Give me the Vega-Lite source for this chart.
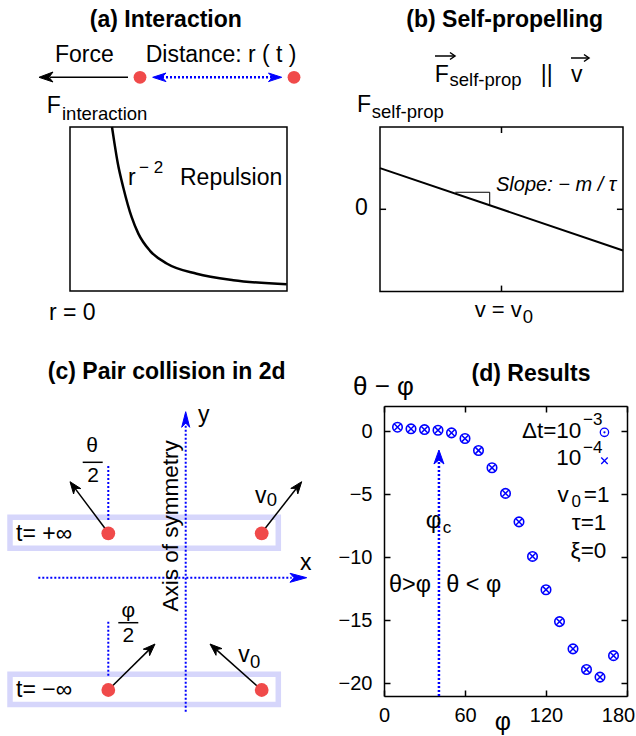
{
"$schema":"https://vega.github.io/schema/vega-lite/v6.json",
"padding":0,
"background":"white",
"config":{"view":{"stroke":null},"font":"Liberation Sans"},
"columns":2,
"spacing":{"row":66,"column":66},
"bounds":"flush",
"align":"each",
"concat":[
{
"width":318,"height":340,
"encoding":{
"x":{"field":"x","type":"quantitative","scale":{"domain":[-0.32258,1.14286],"nice":false,"zero":false},"axis":null},
"y":{"field":"y","type":"quantitative","scale":{"domain":[-0.29878,1.77439],"nice":false,"zero":false},"axis":null}
},
"layer":[
{"data":{"values":[{"x":0,"y":0,"x2":1,"y2":1}]},"mark":{"type":"rect","filled":false,"stroke":"black","strokeWidth":1.5},"encoding":{"x2":{"field":"x2"},"y2":{"field":"y2"}}},
{"data":{"values":[{"x":0.1935,"y":1.0},{"x":0.205,"y":0.9},{"x":0.22,"y":0.78},{"x":0.2458,"y":0.63},{"x":0.2842,"y":0.45},{"x":0.3149,"y":0.35},{"x":0.3687,"y":0.245},{"x":0.4455,"y":0.168},{"x":0.5837,"y":0.105},{"x":0.7527,"y":0.066},{"x":0.9985,"y":0.041}]},"mark":{"type":"line","color":"black","strokeWidth":2.5,"interpolate":"monotone"}},
{"data":{"values":[{"id":"f","k":0,"x":0.2673,"y":1.303},{"id":"f","k":1,"x":-0.0922,"y":1.303}]},"mark":{"type":"line","color":"black","strokeWidth":1.5},"encoding":{"detail":{"field":"id"},"order":{"field":"k"}}},
{"data":{"values":[{"id":"f","k":0,"x":-0.1429,"y":1.303},{"id":"f","k":1,"x":-0.0783,"y":1.3354},{"id":"f","k":2,"x":-0.0968,"y":1.303},{"id":"f","k":3,"x":-0.0783,"y":1.2744},{"id":"f","k":4,"x":-0.1429,"y":1.303}]},"mark":{"type":"line","color":"black","fill":"black","strokeWidth":1},"encoding":{"detail":{"field":"id"},"order":{"field":"k"}}},
{"data":{"values":[{"id":"d","k":0,"x":0.4055,"y":1.303},{"id":"d","k":1,"x":0.9539,"y":1.303}]},"mark":{"type":"line","color":"#0000ff","strokeWidth":2.5,"strokeDash":[2,2]},"encoding":{"detail":{"field":"id"},"order":{"field":"k"}}},
{"data":{"values":[{"id":"l","k":0,"x":0.3811,"y":1.303},{"id":"l","k":1,"x":0.4424,"y":1.3293},{"id":"l","k":2,"x":0.424,"y":1.303},{"id":"l","k":3,"x":0.4424,"y":1.2768},{"id":"l","k":4,"x":0.3811,"y":1.303},{"id":"r","k":0,"x":0.9756,"y":1.303},{"id":"r","k":1,"x":0.9147,"y":1.3293},{"id":"r","k":2,"x":0.9332,"y":1.303},{"id":"r","k":3,"x":0.9147,"y":1.2768},{"id":"r","k":4,"x":0.9756,"y":1.303}]},"mark":{"type":"line","color":"#0000ff","fill":"#0000ff","strokeWidth":1},"encoding":{"detail":{"field":"id"},"order":{"field":"k"}}},
{"data":{"values":[{"x":0.3226,"y":1.303},{"x":1.0323,"y":1.303}]},"mark":{"type":"point","shape":"circle","filled":true,"color":"#f04a4a","size":165,"opacity":1}},
{"data":{"values":[{"x":-0.0691,"y":1.3933,"t":"Force"},{"x":0.3488,"y":1.3933,"t":"Distance: r ( t )"},{"x":-0.1074,"y":1.0854,"t":"F"},{"x":0.2673,"y":0.6463,"t":"r"},{"x":0.5069,"y":0.6463,"t":"Repulsion"},{"x":-0.0968,"y":-0.1768,"t":"r = 0"}]},"mark":{"type":"text","align":"left","baseline":"alphabetic","fontSize":23,"color":"black"},"encoding":{"text":{"field":"t"}}},
{"data":{"values":[{"x":-0.0369,"y":1.0427,"t":"interaction"}]},"mark":{"type":"text","align":"left","baseline":"alphabetic","fontSize":18.5,"color":"black"},"encoding":{"text":{"field":"t"}}},
{"data":{"values":[{"x":0.318,"y":0.7195,"t":"− 2"}]},"mark":{"type":"text","align":"left","baseline":"alphabetic","fontSize":17,"color":"black"},"encoding":{"text":{"field":"t"}}},
{"data":{"values":[{"x":0.4415,"y":1.6098,"t":"(a) Interaction"}]},"mark":{"type":"text","align":"center","baseline":"alphabetic","fontSize":23,"fontWeight":"bold","color":"black"},"encoding":{"text":{"field":"t"}}}
]
},
{
"width":243,"height":340,
"encoding":{
"x":{"field":"x","type":"quantitative","scale":{"domain":[0.03292,2.03292],"nice":false,"zero":false},"axis":null},
"y":{"field":"y","type":"quantitative","scale":{"domain":[-1.58809,2.54313],"nice":false,"zero":false},"axis":null}
},
"layer":[
{"data":{"values":[{"x":0,"y":-1,"x2":2,"y2":1}]},"mark":{"type":"rect","filled":false,"stroke":"black","strokeWidth":1.5},"encoding":{"x2":{"field":"x2"},"y2":{"field":"y2"}}},
{"data":{"values":[{"x":0,"x2":0.05,"y":0,"y2":0},{"x":1.95,"x2":2,"y":0,"y2":0},{"x":1,"x2":1,"y":-1,"y2":-0.927},{"x":1,"x2":1,"y":0.927,"y2":1}]},"mark":{"type":"rule","color":"black","strokeWidth":1.5},"encoding":{"x2":{"field":"x2"},"y2":{"field":"y2"}}},
{"data":{"values":[{"x":0,"y":0.5},{"x":2,"y":-0.5}]},"mark":{"type":"line","color":"black","strokeWidth":2}},
{"data":{"values":[{"id":"s","k":0,"x":0.62,"y":0.207},{"id":"s","k":1,"x":0.903,"y":0.207},{"id":"s","k":2,"x":0.903,"y":0.049}]},"mark":{"type":"line","color":"black","strokeWidth":1},"encoding":{"detail":{"field":"id"},"order":{"field":"k"}}},
{"data":{"values":[{"id":"fa","k":0,"x":0.4527,"y":1.8627},{"id":"fa","k":1,"x":0.6173,"y":1.8627},{"id":"fb","k":0,"x":0.5761,"y":1.9052},{"id":"fb","k":1,"x":0.6173,"y":1.8627},{"id":"fb","k":2,"x":0.5761,"y":1.8202},{"id":"va","k":0,"x":1.572,"y":1.8384},{"id":"va","k":1,"x":1.7202,"y":1.8384},{"id":"vb","k":0,"x":1.679,"y":1.8809},{"id":"vb","k":1,"x":1.7202,"y":1.8384},{"id":"vb","k":2,"x":1.679,"y":1.7959}]},"mark":{"type":"line","color":"black","strokeWidth":1.5},"encoding":{"detail":{"field":"id"},"order":{"field":"k"}}},
{"data":{"values":[{"x":0.4502,"y":1.5468,"t":"F"},{"x":1.3226,"y":1.5468,"t":"||"},{"x":1.572,"y":1.5468,"t":"v"},{"x":-0.1893,"y":1.1823,"t":"F"}]},"mark":{"type":"text","align":"left","baseline":"alphabetic","fontSize":23,"color":"black"},"encoding":{"text":{"field":"t"}}},
{"data":{"values":[{"x":0.7794,"y":-1.305,"t":"v = v"}]},"mark":{"type":"text","align":"left","baseline":"alphabetic","fontSize":22,"color":"black"},"encoding":{"text":{"field":"t"}}},
{"data":{"values":[{"x":0.572,"y":1.4982,"t":"self-prop"},{"x":-0.068,"y":1.1057,"t":"self-prop"},{"x":1.175,"y":-1.3852,"t":"0"}]},"mark":{"type":"text","align":"left","baseline":"alphabetic","fontSize":18.5,"color":"black"},"encoding":{"text":{"field":"t"}}},
{"data":{"values":[{"x":-0.1539,"y":-0.0693,"t":"0"}]},"mark":{"type":"text","align":"center","baseline":"alphabetic","fontSize":23,"color":"black"},"encoding":{"text":{"field":"t"}}},
{"data":{"values":[{"x":0.9547,"y":0.226,"t":"Slope: − m / τ"}]},"mark":{"type":"text","align":"left","baseline":"alphabetic","fontSize":20,"fontStyle":"italic","color":"black"},"encoding":{"text":{"field":"t"}}},
{"data":{"values":[{"x":1.0263,"y":2.215,"t":"(b) Self-propelling"}]},"mark":{"type":"text","align":"center","baseline":"alphabetic","fontSize":23,"fontWeight":"bold","color":"black"},"encoding":{"text":{"field":"t"}}}
]
},
{
"width":318,"height":290,
"encoding":{
"x":{"field":"x","type":"quantitative","scale":{"domain":[-18.57,13.23],"nice":false,"zero":false},"axis":null},
"y":{"field":"y","type":"quantitative","scale":{"domain":[-11.83,17.17],"nice":false,"zero":false},"axis":null}
},
"layer":[
{"data":{"values":[{"x":-17.57,"x2":9.26,"y":2.94,"y2":6.05},{"x":-17.57,"x2":9.26,"y":-12.68,"y2":-9.65}]},"mark":{"type":"rect","filled":false,"stroke":"#d6d6fb","strokeWidth":5.5},"encoding":{"x2":{"field":"x2"},"y2":{"field":"y2"}}},
{"data":{"values":[{"id":"ya","k":0,"x":0,"y":-13.4},{"id":"ya","k":1,"x":0,"y":15.6},{"id":"xa","k":0,"x":-14.74,"y":0},{"id":"xa","k":1,"x":10.6,"y":0},{"id":"t","k":0,"x":-7.74,"y":11.17},{"id":"t","k":1,"x":-7.74,"y":5.77},{"id":"b","k":0,"x":-7.74,"y":-4.4},{"id":"b","k":1,"x":-7.74,"y":-9.9}]},"mark":{"type":"line","color":"#0000ff","strokeWidth":2,"strokeDash":[2,2]},"encoding":{"detail":{"field":"id"},"order":{"field":"k"}}},
{"data":{"values":[{"id":"y","k":0,"x":0,"y":16.6},{"id":"y","k":1,"x":-0.4,"y":15.04},{"id":"y","k":2,"x":0,"y":15.47},{"id":"y","k":3,"x":0.4,"y":15.04},{"id":"y","k":4,"x":0,"y":16.6},{"id":"x","k":0,"x":12.1,"y":0},{"id":"x","k":1,"x":10.43,"y":0.44},{"id":"x","k":2,"x":10.83,"y":0},{"id":"x","k":3,"x":10.43,"y":-0.46},{"id":"x","k":4,"x":12.1,"y":0}]},"mark":{"type":"line","color":"#0000ff","fill":"#0000ff","strokeWidth":1},"encoding":{"detail":{"field":"id"},"order":{"field":"k"}}},
{"data":{"values":[{"id":"a1","k":0,"x":-7.74,"y":4.5},{"id":"a1","k":1,"x":-11.07,"y":8.93},{"id":"a2","k":0,"x":7.6,"y":4.5},{"id":"a2","k":1,"x":11.08,"y":8.94},{"id":"a3","k":0,"x":-7.74,"y":-11.23},{"id":"a3","k":1,"x":-3.67,"y":-7.22},{"id":"a4","k":0,"x":7.6,"y":-11.23},{"id":"a4","k":1,"x":3.06,"y":-7.19}]},"mark":{"type":"line","color":"black","strokeWidth":1.5},"encoding":{"detail":{"field":"id"},"order":{"field":"k"}}},
{"data":{"values":[
{"id":"h1","k":0,"x":-11.57,"y":9.6},{"id":"h1","k":1,"x":-10.49,"y":8.91},{"id":"h1","k":2,"x":-11.07,"y":8.93},{"id":"h1","k":3,"x":-11.21,"y":8.37},{"id":"h1","k":4,"x":-11.57,"y":9.6},
{"id":"h2","k":0,"x":11.6,"y":9.6},{"id":"h2","k":1,"x":11.21,"y":8.38},{"id":"h2","k":2,"x":11.08,"y":8.94},{"id":"h2","k":3,"x":10.51,"y":8.93},{"id":"h2","k":4,"x":11.6,"y":9.6},
{"id":"h3","k":0,"x":-3.07,"y":-6.63},{"id":"h3","k":1,"x":-3.61,"y":-7.79},{"id":"h3","k":2,"x":-3.67,"y":-7.22},{"id":"h3","k":3,"x":-4.24,"y":-7.15},{"id":"h3","k":4,"x":-3.07,"y":-6.63},
{"id":"h4","k":0,"x":2.43,"y":-6.63},{"id":"h4","k":1,"x":3.63,"y":-7.09},{"id":"h4","k":2,"x":3.06,"y":-7.19},{"id":"h4","k":3,"x":3.03,"y":-7.76},{"id":"h4","k":4,"x":2.43,"y":-6.63}]},"mark":{"type":"line","color":"black","fill":"black","strokeWidth":1},"encoding":{"detail":{"field":"id"},"order":{"field":"k"}}},
{"data":{"values":[{"x":-7.74,"y":4.44},{"x":7.6,"y":4.44},{"x":-7.74,"y":-11.23},{"x":7.6,"y":-11.23}]},"mark":{"type":"point","shape":"circle","filled":true,"color":"#f04a4a","size":190,"opacity":1}},
{"data":{"values":[{"x":-10.3,"x2":-8.3,"y":11.54,"y2":11.54},{"x":-6.74,"x2":-4.74,"y":-4.5,"y2":-4.5}]},"mark":{"type":"rule","color":"black","strokeWidth":1.5},"encoding":{"x2":{"field":"x2"},"y2":{"field":"y2"}}},
{"data":{"values":[{"x":-16.97,"y":3.72,"t":"t= +∞"},{"x":-16.97,"y":-11.9,"t":"t= −∞"},{"x":11.43,"y":0.77,"t":"x"},{"x":1.23,"y":15.6,"t":"y"},{"x":6.93,"y":7.44,"t":"v"},{"x":5.26,"y":-8.4,"t":"v"}]},"mark":{"type":"text","align":"left","baseline":"alphabetic","fontSize":23,"color":"black"},"encoding":{"text":{"field":"t"}}},
{"data":{"values":[{"x":8.1,"y":7.2,"t":"0"},{"x":6.43,"y":-9.06,"t":"0"}]},"mark":{"type":"text","align":"left","baseline":"alphabetic","fontSize":18.5,"color":"black"},"encoding":{"text":{"field":"t"}}},
{"data":{"values":[{"x":-9.35,"y":12.6,"t":"θ"},{"x":-9.27,"y":9.6,"t":"2"},{"x":-5.74,"y":-3.93,"t":"φ"},{"x":-5.74,"y":-6.4,"t":"2"}]},"mark":{"type":"text","align":"center","baseline":"alphabetic","fontSize":21,"color":"black"},"encoding":{"text":{"field":"t"}}},
{"data":{"values":[{"x":-0.74,"y":5.19,"t":"Axis of symmetry"}]},"mark":{"type":"text","align":"center","baseline":"alphabetic","angle":270,"fontSize":22.5,"color":"black"},"encoding":{"text":{"field":"t"}}},
{"data":{"values":[{"x":-1.9,"y":19.84,"t":"(c) Pair collision in 2d"}]},"mark":{"type":"text","align":"center","baseline":"alphabetic","fontSize":23,"fontWeight":"bold","color":"black"},"encoding":{"text":{"field":"t"}}}
]
},
{
"width":243,"height":290,
"resolve":{"axis":{"x":"independent","y":"independent"}},
"encoding":{
"x":{"field":"x","type":"quantitative","scale":{"domain":[0,180],"nice":false,"zero":false},"axis":null},
"y":{"field":"y","type":"quantitative","scale":{"domain":[-21,2],"nice":false,"zero":false},"axis":null}
},
"layer":[
{"data":{"values":[{"phi":10,"d":0.32},{"phi":20,"d":0.19},{"phi":30,"d":0.13},{"phi":40,"d":0.08},{"phi":50,"d":-0.13},{"phi":60,"d":-0.58},{"phi":70,"d":-1.53},{"phi":80,"d":-2.9},{"phi":90,"d":-4.93},{"phi":100,"d":-7.19},{"phi":110,"d":-9.93},{"phi":120,"d":-12.57},{"phi":130,"d":-15.1},{"phi":140,"d":-17.26},{"phi":150,"d":-18.9},{"phi":160,"d":-19.5},{"phi":170,"d":-17.8}]},
 "mark":{"type":"point","shape":"circle","filled":false,"color":"#0000ff","size":90,"strokeWidth":1.6,"opacity":1},
 "encoding":{
 "x":{"field":"phi","type":"quantitative","scale":{"domain":[0,180],"nice":false,"zero":false},"axis":{"orient":"bottom","values":[0,60,120,180],"title":null,"grid":false,"tickSize":-6,"tickWidth":1.5,"tickColor":"black","domainColor":"black","domainWidth":1.5,"labelPadding":15,"labelFontSize":20,"labelColor":"black","labelFlush":false,"labelOverlap":false,"labelOffset":{"condition":{"test":"datum.value == 180","value":-9},"value":0}}},
 "y":{"field":"d","type":"quantitative","scale":{"domain":[-21,2],"nice":false,"zero":false},"axis":{"orient":"left","values":[0,-5,-10,-15,-20],"title":null,"grid":false,"tickSize":-6,"tickWidth":1.5,"tickColor":"black","domainColor":"black","domainWidth":1.5,"labelPadding":18,"labelFontSize":20,"labelColor":"black","labelFlush":false,"labelOverlap":false}}
 }},
{"data":{"values":[{"phi":10,"d":0.32},{"phi":20,"d":0.19},{"phi":30,"d":0.13},{"phi":40,"d":0.08},{"phi":50,"d":-0.13},{"phi":60,"d":-0.58},{"phi":70,"d":-1.53},{"phi":80,"d":-2.9},{"phi":90,"d":-4.93},{"phi":100,"d":-7.19},{"phi":110,"d":-9.93},{"phi":120,"d":-12.57},{"phi":130,"d":-15.1},{"phi":140,"d":-17.26},{"phi":150,"d":-18.9},{"phi":160,"d":-19.5},{"phi":170,"d":-17.8}]},
 "mark":{"type":"point","shape":"M-1,-1L1,1M-1,1L1,-1","filled":false,"color":"#0000ff","size":45,"strokeWidth":1.5,"opacity":1},
 "encoding":{
 "x":{"field":"phi","type":"quantitative","scale":{"domain":[0,180],"nice":false,"zero":false},"axis":{"orient":"top","values":[0,60,120,180],"title":null,"grid":false,"labels":false,"tickSize":-6,"tickWidth":1.5,"tickColor":"black","domainColor":"black","domainWidth":1.5}},
 "y":{"field":"d","type":"quantitative","scale":{"domain":[-21,2],"nice":false,"zero":false},"axis":{"orient":"right","values":[0,-5,-10,-15,-20],"title":null,"grid":false,"labels":false,"tickSize":-6,"tickWidth":1.5,"tickColor":"black","domainColor":"black","domainWidth":1.5}}
 }},
{"data":{"values":[{"x":163.3,"y":-0.086}]},"mark":{"type":"point","shape":"circle","filled":false,"color":"#0000ff","size":70,"strokeWidth":1.3,"opacity":1}},
{"data":{"values":[{"x":163.3,"y":-0.086}]},"mark":{"type":"point","shape":"circle","filled":true,"color":"#0000ff","size":5,"opacity":1}},
{"data":{"values":[{"x":163.3,"y":-2.34}]},"mark":{"type":"point","shape":"M-1,-1L1,1M-1,1L1,-1","filled":false,"color":"#0000ff","size":42,"strokeWidth":1.3,"opacity":1}},
{"data":{"values":[{"id":"p","k":0,"x":40.7,"y":-21},{"id":"p","k":1,"x":40.7,"y":-2.3}]},"mark":{"type":"line","color":"#0000ff","strokeWidth":2.5,"strokeDash":[2,2]},"encoding":{"detail":{"field":"id"},"order":{"field":"k"}}},
{"data":{"values":[{"id":"h","k":0,"x":40.7,"y":-1.49},{"id":"h","k":1,"x":37.0,"y":-2.6},{"id":"h","k":2,"x":40.7,"y":-2.28},{"id":"h","k":3,"x":44.4,"y":-2.6},{"id":"h","k":4,"x":40.7,"y":-1.49}]},"mark":{"type":"line","color":"#0000ff","fill":"#0000ff","strokeWidth":1},"encoding":{"detail":{"field":"id"},"order":{"field":"k"}}},
{"data":{"values":[{"x":146.2,"y":-0.538,"t":"Δt=10"},{"x":146.2,"y":-2.68,"t":"10"},{"x":164.7,"y":-7.83,"t":"τ=1"},{"x":164.7,"y":-10.08,"t":"ξ=0"}]},"mark":{"type":"text","align":"right","baseline":"alphabetic","fontSize":22.5,"color":"black"},"encoding":{"text":{"field":"t"}}},
{"data":{"values":[{"x":128.5,"y":-5.59,"t":"v"},{"x":148.0,"y":-5.59,"t":"=1"}]},"mark":{"type":"text","align":"left","baseline":"alphabetic","fontSize":22.5,"color":"black"},"encoding":{"text":{"field":"t"}}},
{"data":{"values":[{"x":147.4,"y":0.49,"t":"−3"},{"x":147.4,"y":-1.73,"t":"−4"},{"x":138.8,"y":-5.99,"t":"0"},{"x":43.6,"y":-8.1,"t":"c"}]},"mark":{"type":"text","align":"left","baseline":"alphabetic","fontSize":17,"color":"black"},"encoding":{"text":{"field":"t"}}},
{"data":{"values":[{"x":-23.0,"y":2.87,"t":"θ − φ"}]},"mark":{"type":"text","align":"left","baseline":"alphabetic","fontSize":26,"color":"black"},"encoding":{"text":{"field":"t"}}},
{"data":{"values":[{"x":31.0,"y":-7.7,"t":"φ"}]},"mark":{"type":"text","align":"left","baseline":"alphabetic","fontSize":24,"color":"black"},"encoding":{"text":{"field":"t"}}},
{"data":{"values":[{"x":3.7,"y":-12.73,"t":"θ>φ"},{"x":46.1,"y":-12.73,"t":"θ < φ"}]},"mark":{"type":"text","align":"left","baseline":"alphabetic","fontSize":23.5,"color":"black"},"encoding":{"text":{"field":"t"}}},
{"data":{"values":[{"x":88.1,"y":-23.7,"t":"φ"}]},"mark":{"type":"text","align":"center","baseline":"alphabetic","fontSize":25,"color":"black"},"encoding":{"text":{"field":"t"}}},
{"data":{"values":[{"x":108.9,"y":3.98,"t":"(d) Results"}]},"mark":{"type":"text","align":"center","baseline":"alphabetic","fontSize":23,"fontWeight":"bold","color":"black"},"encoding":{"text":{"field":"t"}}}
]
}
]
}
